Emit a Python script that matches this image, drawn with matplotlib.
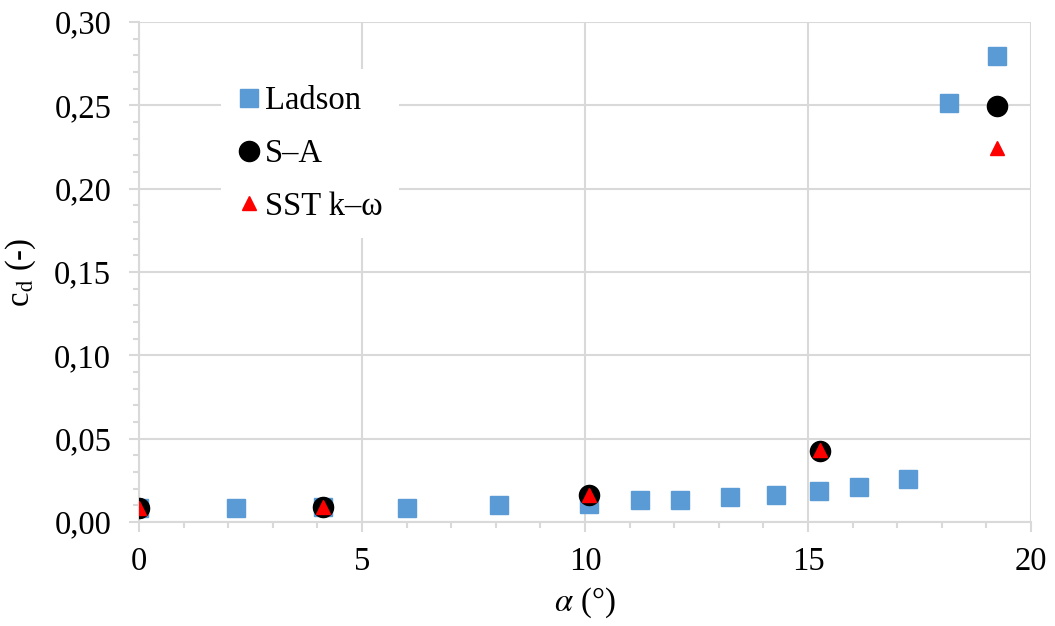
import matplotlib
matplotlib.use('Agg')
import matplotlib.pyplot as plt
from matplotlib.ticker import MultipleLocator, FixedLocator

plt.rcParams['font.family'] = ['Liberation Serif', 'DejaVu Serif']
plt.rcParams['mathtext.fontset'] = 'stix'

# Ladson experiment
ladson_alpha = [0.0, 2.17, 4.13, 6.0, 8.07, 10.09, 11.23, 12.13, 13.25, 14.28, 15.25, 16.14, 17.24, 18.16, 19.24]
ladson_cd = [0.0084, 0.0084, 0.0088, 0.0084, 0.0102, 0.011, 0.0132, 0.013, 0.015, 0.016, 0.0188, 0.021, 0.0258, 0.2512, 0.2796]

# S-A model
sa_alpha = [0.0, 4.13, 10.09, 15.27, 19.24]
sa_cd = [0.0084, 0.009, 0.016, 0.0428, 0.2496]

# SST k-omega model
sst_alpha = [0.0, 4.13, 10.09, 15.27, 19.24]
sst_cd = [0.0084, 0.009, 0.016, 0.043, 0.2244]

y_ticks = [0.0, 0.05, 0.10, 0.15, 0.20, 0.25, 0.30]
y_labels = ['0,00', '0,05', '0,10', '0,15', '0,20', '0,25', '0,30']
x_ticks = [0, 5, 10, 15, 20]

grid_c = '#d9d9d9'
fs = 23.5

fig = plt.figure(figsize=(10.55, 6.26), dpi=100)
ax = fig.add_axes([139/1055, 1 - 522/626, 892/1055, 500/626])

ax.plot(ladson_alpha, ladson_cd, 's', ms=13, color='#5b9bd5', mec='#5b9bd5', label='Ladson', zorder=3)
ax.plot(sa_alpha, sa_cd, 'o', ms=14.5, color='black', label='S\u2013A', zorder=4)
ax.plot(sst_alpha, sst_cd, '^', ms=10.5, color='red', mec='red', label='SST k\u2013\u03c9', zorder=5)

ax.set_xlim(0, 20)
ax.set_ylim(0, 0.30)
ax.xaxis.set_major_locator(FixedLocator(x_ticks))
ax.xaxis.set_minor_locator(MultipleLocator(1))
ax.yaxis.set_major_locator(FixedLocator(y_ticks))
ax.yaxis.set_minor_locator(MultipleLocator(0.01))
ax.set_yticklabels(y_labels)
ax.set_xticklabels([str(t) for t in x_ticks])

ax.grid(True, which='major', color=grid_c, lw=1.5, zorder=0)
ax.set_axisbelow(True)
for s in ['top', 'right']:
    ax.spines[s].set_visible(False)
for s in ['left', 'bottom']:
    ax.spines[s].set_color(grid_c)
    ax.spines[s].set_linewidth(1.5)

ax.tick_params(which='major', direction='out', length=7, width=1.5, color=grid_c,
               labelsize=fs)
ax.tick_params(axis='x', which='major', pad=11)
ax.tick_params(axis='y', which='major', pad=13)
ax.tick_params(which='minor', direction='out', length=4.5, width=1.5, color=grid_c)

ax.set_xlabel(r'$\alpha$ (°)', fontsize=fs, labelpad=6)
ax.set_ylabel(r'c$_\mathrm{d}$ (-)', fontsize=fs, labelpad=12)

leg = ax.legend(loc='upper left', bbox_to_anchor=(0.092, 0.905), fontsize=fs,
                frameon=True, fancybox=False, framealpha=1, facecolor='white',
                edgecolor='none', handlelength=0.7, handletextpad=0.15,
                labelspacing=0.68, borderpad=0.5, borderaxespad=0)

fig.savefig('out.png', dpi=100)
